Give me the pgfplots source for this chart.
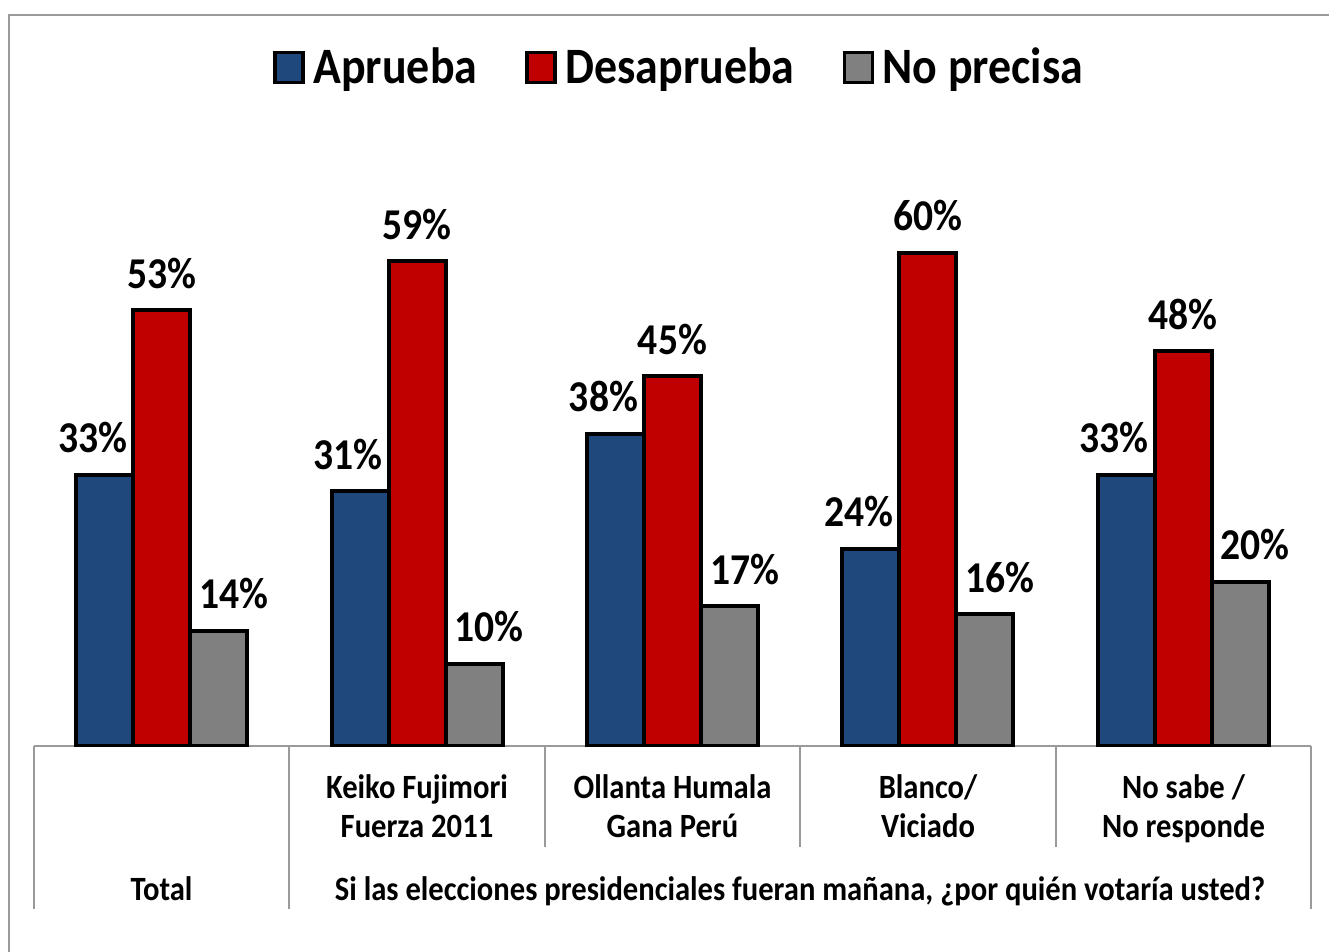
\documentclass[border=0pt]{standalone}
\usepackage{pgfplots}
\pgfplotsset{compat=1.18}
\usepackage{fontspec}
\setmainfont{Carlito}[FakeStretch=0.9]
\definecolor{cBlue}{HTML}{1F497D}
\definecolor{cRed}{HTML}{C00000}
\definecolor{cGray}{HTML}{808080}
\definecolor{cLine}{HTML}{9A9A9A}
\begin{document}
\begin{tikzpicture}
\begin{scope}[x=0.5pt,y=-0.5pt]
\useasboundingbox (0,0) rectangle (1329,952);
% outer frame (cut off at right and bottom)
\draw[cLine, line width=1pt] (9,952) -- (9,15) -- (1329,15);
% category table lines
\draw[cLine, line width=1pt] (34,746) -- (1311,746);
\draw[cLine, line width=1pt] (34,746) -- (34,909);
\draw[cLine, line width=1pt] (289,746) -- (289,909);
\draw[cLine, line width=1pt] (1311,746) -- (1311,909);
\foreach \xx in {545,800,1056} \draw[cLine, line width=1pt] (\xx,746) -- (\xx,847);
\begin{scope}[font=\fontsize{17}{20}\selectfont\bfseries]
\node[anchor=base] at (417,798) {Keiko Fujimori};
\node[anchor=base] at (417,837) {Fuerza 2011};
\node[anchor=base] at (672.5,798) {Ollanta Humala};
\node[anchor=base] at (672.5,837) {Gana Perú};
\node[anchor=base] at (928,798) {Blanco/};
\node[anchor=base] at (928,837) {Viciado};
\node[anchor=base] at (1183.5,798) {No sabe /};
\node[anchor=base] at (1183.5,837) {No responde};
\node[anchor=base] at (161.5,900) {Total};
\node[anchor=base] at (800,900) {Si las elecciones presidenciales fueran mañana, ¿por quién votaría usted?};
\end{scope}
\end{scope}
\begin{axis}[
  at={(17pt,-373pt)}, anchor=south west,
  scale only axis,
  width=638.5pt, height=328.8pt,
  hide axis,
  ymin=0, ymax=80,
  xmin=-0.5, xmax=4.5,
  ybar=0pt,
  bar width=0.2232,
  /pgf/number format/assume math mode=true,
  legend columns=3,
  legend style={
    at={(axis description cs:0.506,1.032)}, anchor=center,
    draw=none, fill=none,
    font=\fontsize{25.5}{30}\selectfont\bfseries,
    /tikz/every odd column/.append style={column sep=2.5pt},
    /tikz/every even column/.append style={column sep=22pt},
  },
  legend image code/.code={\draw[#1, line width=1.6pt] (0pt,-7.5pt) rectangle (14pt,7.5pt);},
  every node near coord/.append style={
    font=\fontsize{22}{26}\selectfont\bfseries, anchor=base, yshift=11pt, text=black},
  nodes near coords={\pgfmathprintnumber{\pgfplotspointmeta}\%},
]
\addplot[fill=cBlue, draw=black, line width=2pt, bar shift=-0.2232,
  every node near coord/.append style={xshift=-6pt}]
  coordinates {(0,33) (1,31) (2,38) (3,24) (4,33)};
\addplot[fill=cRed, draw=black, line width=2pt, bar shift=0]
  coordinates {(0,53) (1,59) (2,45) (3,60) (4,48)};
\addplot[fill=cGray, draw=black, line width=2pt, bar shift=0.2232,
  every node near coord/.append style={xshift=7.5pt}]
  coordinates {(0,14) (1,10) (2,17) (3,16) (4,20)};
\legend{Aprueba, Desaprueba, No precisa}
\end{axis}
\end{tikzpicture}
\end{document}
